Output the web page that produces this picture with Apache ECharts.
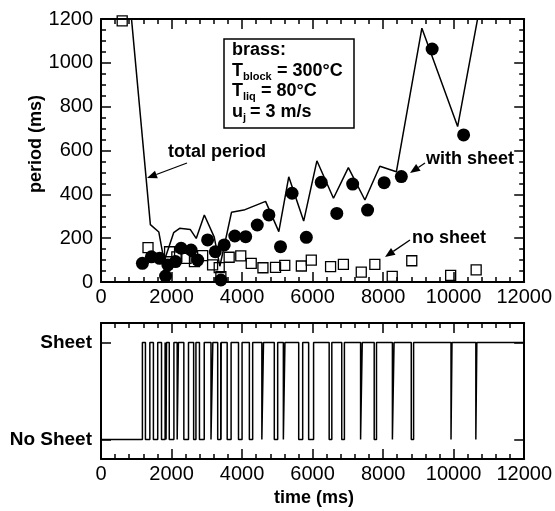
<!DOCTYPE html>
<html><head><meta charset="utf-8">
<script src="https://cdn.jsdelivr.net/npm/echarts@6/dist/echarts.min.js"></script>
<style>html,body{margin:0;padding:0;background:#fff}#c{width:555px;height:511px}</style>
</head><body><div id="c"></div>
<script>
// ---- data ----
const totalPeriodTime  = [700, 1400, 1640, 1790, 2060, 2230, 2530, 2700, 2930, 3211, 3370, 3700, 4050, 4667, 5042, 5324, 5747, 6122, 6592, 7014, 7484, 7906, 8375, 9099, 10113, 11000];
const totalPeriodValue = [1490, 262, 228, 95, 225, 245, 240, 199, 306, 205, 72, 318, 328, 368, 230, 480, 278, 553, 382, 522, 374, 528, 503, 1158, 709, 1480];

const withSheetTime  = [1174, 1428, 1662, 1831, 1897, 2113, 2272, 2554, 2742, 3023, 3240, 3399, 3493, 3794, 4103, 4431, 4761, 5090, 5418, 5822, 6245, 6686, 7136, 7559, 8029, 8516, 9390, 10282];
const withSheetValue = [85, 115, 108, 27, 78, 93, 154, 146, 100, 192, 138, 9, 169, 210, 207, 260, 306, 161, 405, 204, 455, 313, 447, 328, 453, 481, 1063, 671];

const noSheetTime  = [601, 1333, 1944, 2150, 2413, 2650, 2882, 3164, 3352, 3399, 3634, 3963, 4260, 4592, 4949, 5211, 5681, 5963, 6510, 6873, 7380, 7765, 8258, 8812, 9915, 10638];
const noSheetValue = [1191, 157, 138, 115, 108, 93, 120, 78, 66, 24, 113, 119, 85, 65, 67, 76, 73, 100, 70, 80, 45, 80, 26, 97, 30, 55];

// sheet intervals (ms) in the lower trace
const sheetOnTimes  = [1174, 1385, 1608, 1818, 1858, 2067, 2195, 2481, 2692, 2927, 3171, 3395, 3409, 3689, 4000, 4301, 4608, 5010, 5216, 5719, 6028, 6545, 6902, 7408, 7812, 8310, 8864, 9953, 10657];
const sheetOffTimes = [1260, 1486, 1716, 1845, 1936, 2160, 2349, 2627, 2792, 3119, 3309, 3404, 3578, 3899, 4207, 4561, 4914, 5171, 5606, 5888, 6470, 6826, 7361, 7747, 8263, 8798, 9925, 10629, 12000];

const timeTicks = [0, 2000, 4000, 6000, 8000, 10000, 12000];
const periodTicks = [0, 200, 400, 600, 800, 1000, 1200];
const stateLabels = ['No Sheet', 'Sheet'];

// ---- build chart ----
const F = 'Liberation Sans, Arial, Helvetica, sans-serif';
const chart = echarts.init(document.getElementById('c'), null, {renderer: 'canvas'});

function xAx(gridIndex, position, showLabel) {
  return {
    type: 'value', gridIndex, position,
    min: timeTicks[0], max: timeTicks[timeTicks.length - 1], interval: timeTicks[1] - timeTicks[0],
    axisLine: {show: true, onZero: false, lineStyle: {color: '#000', width: 2}},
    axisTick: {show: true, inside: true, length: 10, lineStyle: {color: '#000', width: 1.5}},
    minorTick: {show: true, splitNumber: 5, length: 5, lineStyle: {color: '#000', width: 1.5}},
    splitLine: {show: false}, minorSplitLine: {show: false},
    axisLabel: {show: showLabel, color: '#000', fontSize: 20, fontFamily: F, margin: 5, showMinLabel: true, showMaxLabel: true,
      formatter: v => String(v)}
  };
}
function yTop(position, showLabel) {
  return {
    type: 'value', gridIndex: 0, position,
    min: periodTicks[0], max: periodTicks[periodTicks.length - 1], interval: periodTicks[1] - periodTicks[0],
    axisLine: {show: true, onZero: false, lineStyle: {color: '#000', width: 2}},
    axisTick: {show: true, inside: true, length: 10, lineStyle: {color: '#000', width: 1.5}},
    minorTick: {show: true, splitNumber: 4, length: 5, lineStyle: {color: '#000', width: 1.5}},
    splitLine: {show: false}, minorSplitLine: {show: false},
    axisLabel: {show: showLabel, color: '#000', fontSize: 20, fontFamily: F, margin: 8, showMinLabel: true, showMaxLabel: true,
      formatter: v => String(v)}
  };
}
function yBot(position, showLabel) {
  return {
    type: 'value', gridIndex: 1, position,
    min: -0.2, max: 1.2,
    axisLine: {show: true, onZero: false, lineStyle: {color: '#000', width: 2}},
    axisTick: {show: true, inside: true, length: 10, customValues: [0, 1], lineStyle: {color: '#000', width: 1.5}},
    minorTick: {show: false},
    splitLine: {show: false},
    axisLabel: {show: showLabel, customValues: [0, 1], color: '#000', fontSize: 19, fontWeight: 'bold', fontFamily: F, margin: 9,
      formatter: v => stateLabels[Math.round(v)] || ''}
  };
}

// lower trace as step points
const wave = [[0, 0]];
for (let i = 0; i < sheetOnTimes.length; i++) {
  wave.push([sheetOnTimes[i], 0], [sheetOnTimes[i], 1], [sheetOffTimes[i], 1]);
  if (sheetOffTimes[i] < 12000) wave.push([sheetOffTimes[i], 0]);
}

function arrow(x1, y1, x2, y2, len, half) {
  const dx = x2 - x1, dy = y2 - y1, L = Math.hypot(dx, dy);
  const ux = dx / L, uy = dy / L;
  const bx = x2 - ux * len, by = y2 - uy * len;
  return [
    {type: 'line', shape: {x1, y1, x2: bx, y2: by}, style: {stroke: '#000', lineWidth: 1.3}, z: 100},
    {type: 'polygon', shape: {points: [[x2, y2], [bx - uy * half, by + ux * half], [bx + uy * half, by - ux * half]]}, style: {fill: '#000'}, z: 100}
  ];
}

const txt = (text, x, y, size, extra) => Object.assign({
  type: 'text', x, y, z: 100,
  style: Object.assign({text, fill: '#000', font: 'bold ' + size + 'px ' + F, textVerticalAlign: 'middle'}, extra || {})
});

const graphics = [
  {type: 'rect', shape: {x: 224, y: 39, width: 130, height: 89}, style: {fill: '#fff', stroke: '#000', lineWidth: 1.5}, z: 90},
  txt('brass:', 232, 50, 18),
  txt('T', 232, 71, 18), txt('block', 243, 77, 11), txt(' = 300°C', 272, 71, 18),
  txt('T', 232, 91, 18), txt('liq', 243, 97, 11), txt(' = 80°C', 256, 91, 18),
  txt('u', 232, 112, 18), txt('j', 243, 118, 11), txt(' = 3 m/s', 245, 112, 18),
  txt('total period', 217, 152, 18, {textAlign: 'center'}),
  txt('with sheet', 426, 159, 18),
  txt('no sheet', 412, 238, 18),
  Object.assign(txt('period (ms)', 0, 0, 18, {textAlign: 'center'}), {x: 36, y: 144, rotation: Math.PI / 2}),
  txt('time (ms)', 314, 498, 18, {textAlign: 'center'})
];
graphics.push(...arrow(187, 163, 147, 178, 10, 4));
graphics.push(...arrow(425, 163, 410, 173, 10, 4));
graphics.push(...arrow(410, 240, 385, 257, 10, 4));

chart.setOption({
  animation: false,
  backgroundColor: '#fff',
  grid: [
    {left: 101, top: 19, width: 426, height: 263, containLabel: false},
    {left: 101, top: 323, width: 426, height: 136, containLabel: false}
  ],
  xAxis: [xAx(0, 'bottom', true), xAx(0, 'top', false), xAx(1, 'bottom', true), xAx(1, 'top', false)],
  yAxis: [yTop('left', true), yTop('right', false), yBot('left', true), yBot('right', false)],
  series: [
    {type: 'line', xAxisIndex: 0, yAxisIndex: 0, symbol: 'none', clip: true,
      lineStyle: {color: '#000', width: 1.5},
      data: totalPeriodTime.map((t, i) => [t, totalPeriodValue[i]]), z: 3},
    {type: 'scatter', xAxisIndex: 0, yAxisIndex: 0, symbol: 'rect', symbolSize: 10,
      itemStyle: {color: 'rgba(0,0,0,0)', borderColor: '#000', borderWidth: 1.3, opacity: 1},
      data: noSheetTime.map((t, i) => [t, noSheetValue[i]]), z: 4},
    {type: 'scatter', xAxisIndex: 0, yAxisIndex: 0, symbol: 'circle', symbolSize: 13,
      itemStyle: {color: '#000', opacity: 1},
      data: withSheetTime.map((t, i) => [t, withSheetValue[i]]), z: 5},
    {type: 'line', xAxisIndex: 2, yAxisIndex: 2, symbol: 'none', clip: true,
      lineStyle: {color: '#000', width: 1.5}, data: wave}
  ],
  graphic: graphics
});
</script>
</body></html>
